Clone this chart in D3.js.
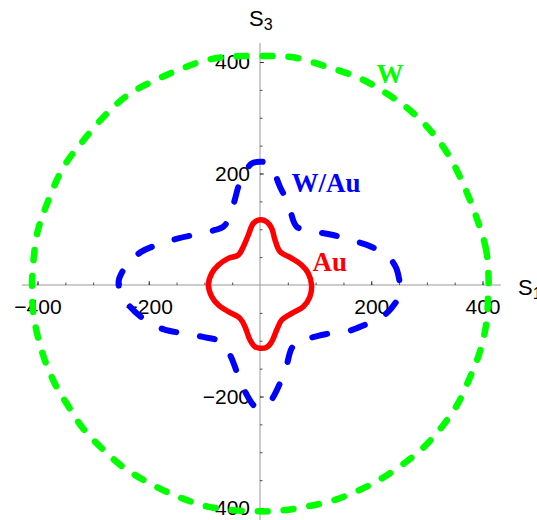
<!DOCTYPE html>
<html>
<head>
<meta charset="utf-8">
<script src="https://cdn.jsdelivr.net/npm/d3@7"></script>
<style>
  body { margin: 0; background: #fff; }
  text { font-family: "Liberation Sans", Arial, sans-serif; }
</style>
</head>
<body>
<div id="wrapper"></div>
<script>
// points [S1, S3], going round anticlockwise
const wPoints = [
  [411, 9], [406.6, 62.8], [388.7, 122.5], [364.7, 182.4], [340.8, 230], [310.8, 272],
  [269, 313.9], [227, 343.9], [179.4, 370.8], [119.6, 391.6], [59.7, 408.4], [6, 410.8],
  [-48, 410], [-95.6, 403.6], [-143.5, 387], [-185, 369], [-233, 344], [-275, 308],
  [-317, 260], [-353, 212], [-382.6, 146.5], [-400.5, 92.7], [-409.5, 15],
  [-409.8, -8.9], [-406.8, -56.3], [-391.4, -121.5], [-369.9, -174.8], [-345.3, -216.3],
  [-317.7, -257.8], [-283.9, -293.3], [-247, -326], [-204, -352.6], [-148.7, -379.3],
  [-87.2, -398.8], [0, -406], [42.4, -404], [86, -397], [136, -385], [186, -364.4],
  [229, -340.7], [267, -314], [298, -287.4], [329, -251.9], [354, -216], [376, -169],
  [394.7, -121.5], [407, -68], [410.3, -8.9]
]

const wauPoints = [
  [251, 6], [245, 30], [233, 47.8], [200, 68.7], [167, 79.5], [131.5, 89.7], [98.7, 95.6],
  [66, 104.6], [54, 134.5], [45, 158], [36, 176], [25, 203], [15, 218], [0, 221],
  [-14.9, 218], [-30, 197], [-39, 176], [-45, 154], [-55.6, 119.6], [-65.7, 104.6],
  [-80.7, 98.7], [-111, 91.5], [-147, 83.6], [-177, 74.7], [-213, 59.8], [-237, 38.9],
  [-249, 21], [-254, 7.7], [-252, -10], [-236, -36], [-206, -63], [-173, -79.5],
  [-137.5, -86.7], [-104.6, -92.7], [-71.7, -101.6], [-53.8, -125.6], [-41.8, -155.5],
  [-27, -191], [-9, -218], [0, -220], [18, -209], [36, -176], [48, -143.5], [57, -113.5],
  [72, -98.7], [86.7, -95.6], [119.6, -87.9], [155.5, -83.7], [188, -71.7], [218, -58],
  [236, -41.8], [254, -12]
]

const auPoints = [
  [92.7, 0], [86.7, 21], [74.7, 35.9], [57, 47.8], [36, 59.8], [27, 80.7], [21, 101.7],
  [12, 113.5], [0, 117], [-12, 110.7], [-21, 89.7], [-30, 68.7], [-39, 53.8], [-57, 47.8],
  [-74.7, 35.9], [-86.7, 21], [-92.7, 0], [-86.7, -21], [-74.7, -35.9], [-57, -47.8],
  [-36, -59.8], [-27, -74.8], [-18, -98.7], [-9, -110.7], [0, -113.5], [12, -111.8],
  [21, -101.7], [30, -80.7], [39, -62.8], [57, -50.8], [77.7, -38.9], [89.7, -21]
]

const majorTicks = [-400, -200, 200, 400]
const minorTicks = [-400, -350, -300, -250, -200, -150, -100, -50, 50, 100, 150, 200, 250, 300, 350, 400]

const seriesNames = ["W", "W/Au", "Au"]

const width = 537
const height = 520

const svg = d3.select("#wrapper")
    .append("svg")
    .attr("width", width)
    .attr("height", height)

const xScale = d3.scaleLinear().domain([-400, 400]).range([37.5, 482.5])
const yScale = d3.scaleLinear().domain([-400, 400]).range([508, 62])

// axis lines
svg.append("line")
    .attr("x1", xScale(-428)).attr("x2", xScale(433))
    .attr("y1", yScale(0)).attr("y2", yScale(0))
    .attr("stroke", "#999").attr("stroke-width", 1)
svg.append("line")
    .attr("x1", xScale(0)).attr("x2", xScale(0))
    .attr("y1", yScale(434)).attr("y2", yScale(-450))
    .attr("stroke", "#999").attr("stroke-width", 1)

// ticks
const xMinor = svg.append("g")
    .attr("transform", `translate(0,${yScale(0)})`)
    .call(d3.axisBottom(xScale).tickValues(minorTicks).tickSize(-2.5).tickFormat(""))
const xMajor = svg.append("g")
    .attr("transform", `translate(0,${yScale(0)})`)
    .call(d3.axisBottom(xScale).tickValues(majorTicks).tickSize(-4).tickPadding(14))
const yMinor = svg.append("g")
    .attr("transform", `translate(${xScale(0)},0)`)
    .call(d3.axisLeft(yScale).tickValues(minorTicks).tickSize(-2.5).tickFormat(""))
const yMajor = svg.append("g")
    .attr("transform", `translate(${xScale(0)},0)`)
    .call(d3.axisLeft(yScale).tickValues(majorTicks).tickSize(-4).tickPadding(10))

svg.selectAll(".domain").remove()
svg.selectAll(".tick line").attr("stroke", "#222").attr("stroke-width", 0.8)
svg.selectAll(".tick text")
    .attr("fill", "#000")
    .style("font-size", "21px")
    .style("font-family", "'Liberation Sans', Arial, sans-serif")

// axis labels
const s1 = svg.append("text").attr("x", 518).attr("y", 295).style("font-size", "22px")
s1.append("tspan").text("S")
s1.append("tspan").attr("dy", 4).style("font-size", "16px").text("1")
const s3 = svg.append("text").attr("x", 249).attr("y", 26).style("font-size", "22px")
s3.append("tspan").text("S")
s3.append("tspan").attr("dy", 4).style("font-size", "16px").text("3")

// curves
const lineGen = d3.line()
    .x(d => xScale(d[0]))
    .y(d => yScale(d[1]))
    .curve(d3.curveCatmullRomClosed.alpha(0.5))

svg.append("path")
    .datum(wPoints)
    .attr("d", lineGen)
    .attr("fill", "none")
    .attr("stroke", "#00ff00")
    .attr("stroke-width", 6.5)
    .attr("stroke-linecap", "round")
    .attr("stroke-dasharray", "10,16")

svg.append("path")
    .datum(wauPoints)
    .attr("d", lineGen)
    .attr("fill", "none")
    .attr("stroke", "#0000ff")
    .attr("stroke-width", 6)
    .attr("stroke-linecap", "round")
    .attr("stroke-dasharray", "15,24")
    .attr("stroke-dashoffset", 8)

svg.append("path")
    .datum(auPoints)
    .attr("d", lineGen)
    .attr("fill", "none")
    .attr("stroke", "#ff0000")
    .attr("stroke-width", 5.5)
    .attr("stroke-linejoin", "round")

// series labels
const labelStyle = sel => sel
    .style("font-family", "'Liberation Serif', 'Times New Roman', serif")
    .style("font-weight", "bold")
    .style("font-size", "27px")

svg.append("text").attr("x", 376.5).attr("y", 83).attr("fill", "#00ff00")
    .call(labelStyle).text(seriesNames[0])
svg.append("text").attr("x", 291.5).attr("y", 191.5).attr("fill", "#0000ff")
    .call(labelStyle).text(seriesNames[1])
svg.append("text").attr("x", 312.5).attr("y", 270.5).attr("fill", "#ff0000")
    .call(labelStyle).text(seriesNames[2])
</script>
</body>
</html>
